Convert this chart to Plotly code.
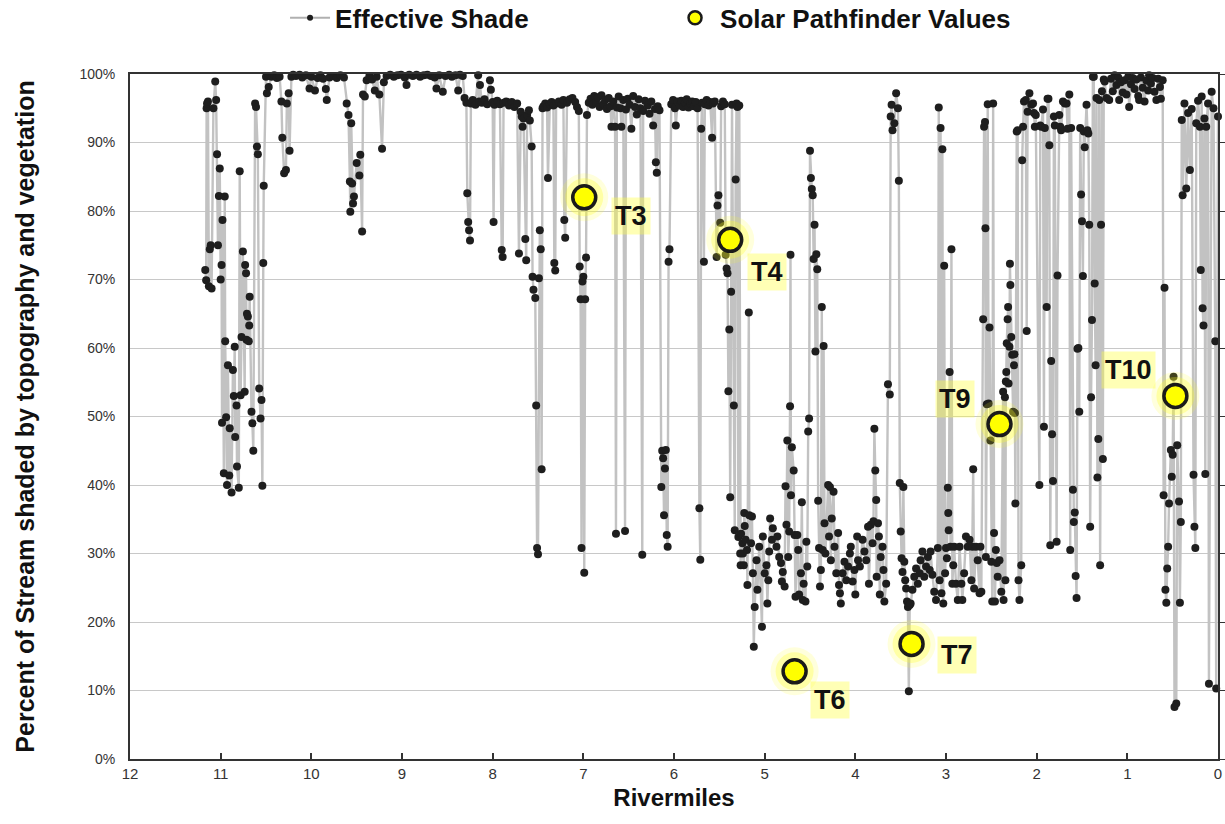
import plotly.graph_objects as go

# ---------------- Effective Shade (rivermile, percent shaded) ----------------
shade_rm11_10 = [
    (11.17, 71.4), (11.16, 69.9), (11.155, 95.0), (11.15, 95.7), (11.14, 96.0), (11.13, 69.0),
    (11.12, 74.4), (11.11, 75.0), (11.10, 68.7), (11.08, 95.0), (11.06, 98.9), (11.05, 96.2),
    (11.04, 88.3), (11.03, 75.0), (11.02, 82.2), (11.01, 86.2), (11.00, 70.0), (10.99, 72.1),
    (10.985, 49.1), (10.98, 78.7), (10.965, 41.7), (10.955, 82.1), (10.95, 61.0), (10.94, 49.9),
    (10.93, 40.0), (10.92, 57.5), (10.905, 41.4), (10.90, 48.3), (10.88, 38.9), (10.865, 56.8),
    (10.855, 53.0), (10.845, 60.2), (10.84, 47.0), (10.825, 51.6), (10.82, 42.7), (10.80, 39.6),
    (10.79, 85.8), (10.78, 53.1), (10.77, 61.6), (10.755, 74.1), (10.735, 53.6), (10.73, 72.1),
    (10.72, 70.9), (10.715, 61.2), (10.71, 65.0), (10.70, 64.6), (10.69, 61.0), (10.685, 63.3),
    (10.68, 67.5), (10.66, 50.7), (10.65, 49.0), (10.64, 45.0), (10.62, 95.7), (10.61, 95.2),
    (10.60, 89.4), (10.59, 88.3), (10.575, 54.1), (10.56, 49.7), (10.55, 52.4), (10.54, 39.9),
    (10.53, 72.4), (10.525, 83.7), (10.50, 99.6), (10.49, 97.2), (10.47, 98.1), (10.44, 99.6),
    (10.41, 99.8), (10.38, 99.4), (10.35, 99.6),
]

shade_rm10_8 = [
    (10.33, 96.0), (10.32, 90.7), (10.30, 85.5), (10.28, 86.0), (10.27, 95.7), (10.25, 97.2),
    (10.24, 88.8), (10.22, 99.6), (10.20, 99.9), (10.17, 99.7), (10.13, 99.9), (10.10, 99.5),
    (10.06, 99.8), (10.02, 97.9), (10.00, 99.6), (9.96, 97.6), (9.93, 99.4), (9.90, 99.8),
    (9.87, 99.3), (9.84, 97.8), (9.83, 96.2), (9.80, 99.5), (9.76, 99.7), (9.72, 99.4),
    (9.68, 99.8), (9.64, 99.5), (9.61, 95.7), (9.59, 94.0), (9.575, 84.3), (9.57, 79.9),
    (9.56, 92.8), (9.55, 84.0), (9.54, 81.1), (9.53, 82.1), (9.50, 87.0), (9.47, 85.2),
    (9.46, 88.2), (9.44, 77.0), (9.43, 97.0), (9.41, 96.7), (9.39, 99.1), (9.36, 99.7),
    (9.33, 99.2), (9.30, 97.6), (9.28, 99.6), (9.25, 97.0), (9.22, 89.1), (9.20, 98.8),
    (9.17, 99.7), (9.13, 99.9), (9.09, 99.6), (9.05, 99.8), (9.01, 99.9), (8.97, 99.5),
    (8.95, 98.4), (8.92, 99.9), (8.88, 99.7), (8.84, 99.9), (8.80, 99.6), (8.76, 99.8),
    (8.72, 99.9), (8.68, 99.7), (8.64, 99.5), (8.62, 97.9), (8.59, 99.8), (8.55, 97.4),
    (8.52, 99.7), (8.48, 99.9), (8.45, 99.6), (8.41, 99.8), (8.38, 97.6), (8.36, 99.9),
    (8.33, 99.7),
]

shade_rm8_7 = [
    (8.31, 96.5), (8.29, 95.8), (8.28, 82.6), (8.27, 78.4), (8.26, 77.2), (8.25, 75.7),
    (8.24, 95.7), (8.22, 96.2), (8.19, 95.5), (8.16, 99.8), (8.15, 96.0), (8.14, 98.4),
    (8.12, 95.8), (8.09, 96.3), (8.06, 95.6), (8.03, 99.1), (8.02, 97.7), (8.00, 95.9),
    (7.99, 78.4), (7.98, 95.5), (7.95, 96.1), (7.92, 95.6), (7.90, 74.3), (7.89, 73.3),
    (7.88, 95.8), (7.85, 96.0), (7.82, 95.4), (7.79, 95.9), (7.76, 95.2), (7.73, 95.7),
    (7.71, 73.8), (7.69, 94.5), (7.68, 93.8), (7.67, 92.3), (7.66, 93.5), (7.64, 75.9),
    (7.63, 72.8), (7.62, 94.0), (7.60, 94.7), (7.59, 93.2), (7.57, 89.4), (7.56, 70.4),
    (7.55, 68.5), (7.53, 67.3), (7.52, 51.6), (7.51, 30.8), (7.50, 29.9), (7.49, 70.2),
    (7.48, 77.2), (7.47, 74.4), (7.46, 42.3), (7.45, 95.0), (7.44, 95.3), (7.42, 95.7),
    (7.40, 95.1), (7.39, 84.8), (7.37, 95.6), (7.35, 95.9), (7.33, 95.4), (7.32, 72.4),
    (7.31, 71.3), (7.30, 95.7), (7.27, 96.0), (7.24, 95.5), (7.22, 96.2), (7.21, 78.7),
    (7.20, 76.1), (7.18, 95.8), (7.15, 96.3), (7.12, 96.5), (7.09, 95.9), (7.07, 95.2),
    (7.05, 94.6), (7.04, 71.9), (7.03, 67.1), (7.02, 30.8), (7.01, 69.7), (7.00, 70.4),
    (6.99, 27.2), (6.98, 67.1), (6.97, 73.2), (6.96, 94.0), (6.94, 95.8),
]

shade_rm7_5 = [
    (6.92, 96.4), (6.90, 95.5), (6.88, 96.8), (6.86, 95.9), (6.84, 96.6), (6.82, 95.2),
    (6.80, 96.9), (6.78, 95.6), (6.76, 96.2), (6.74, 94.9), (6.72, 96.5), (6.70, 95.3),
    (6.69, 92.3), (6.67, 96.0), (6.65, 92.3), (6.64, 32.9), (6.63, 95.1), (6.61, 96.7),
    (6.59, 95.0), (6.58, 92.3), (6.56, 96.2), (6.54, 33.3), (6.53, 94.8), (6.51, 96.4),
    (6.49, 95.5), (6.47, 92.0), (6.45, 96.8), (6.43, 95.2), (6.41, 94.1), (6.39, 96.3),
    (6.37, 95.0), (6.35, 29.8), (6.34, 94.6), (6.32, 96.1), (6.29, 95.4), (6.27, 94.2),
    (6.25, 96.0), (6.23, 92.5), (6.21, 94.9), (6.20, 87.1), (6.19, 85.6), (6.18, 95.3),
    (6.16, 94.7), (6.14, 39.7), (6.13, 45.0), (6.12, 43.9), (6.11, 35.6), (6.10, 42.4),
    (6.09, 45.1), (6.08, 32.7), (6.07, 31.0), (6.06, 72.6), (6.05, 74.4), (6.03, 95.6),
    (6.01, 96.2), (5.99, 95.0), (5.98, 92.5), (5.96, 96.0), (5.94, 95.4), (5.92, 96.1),
    (5.90, 95.2), (5.88, 95.8), (5.86, 96.3), (5.84, 95.1), (5.82, 95.7), (5.80, 96.0),
    (5.78, 95.3), (5.76, 95.9), (5.74, 95.0), (5.72, 36.6), (5.71, 29.1), (5.70, 92.0),
    (5.69, 95.8), (5.67, 72.6), (5.66, 95.6), (5.64, 96.2), (5.62, 95.4), (5.60, 95.9),
    (5.58, 90.7), (5.57, 95.7), (5.55, 96.0), (5.53, 73.3), (5.52, 80.8), (5.51, 82.3),
    (5.49, 78.3), (5.48, 95.3), (5.46, 96.0), (5.44, 95.6), (5.43, 73.6), (5.42, 71.6),
    (5.41, 70.9), (5.40, 53.7), (5.39, 62.7), (5.38, 38.2), (5.37, 68.2), (5.36, 95.5),
    (5.34, 51.6), (5.33, 33.4), (5.32, 84.6), (5.31, 95.7), (5.30, 95.2), (5.29, 32.4),
    (5.28, 95.4), (5.27, 30.0),
]

shade_rm5_4 = [
    (5.265, 28.3), (5.26, 32.9), (5.245, 31.5), (5.24, 30.0), (5.23, 28.3), (5.225, 35.9),
    (5.22, 34.0), (5.21, 32.0), (5.195, 30.5), (5.19, 25.4), (5.175, 65.2), (5.17, 35.6),
    (5.15, 31.5), (5.14, 35.4), (5.13, 27.1), (5.12, 16.4), (5.11, 22.2), (5.09, 29.0),
    (5.08, 24.7), (5.06, 31.0), (5.03, 19.3), (5.02, 32.5), (5.00, 27.1), (4.98, 28.3),
    (4.97, 22.7), (4.96, 26.1), (4.95, 30.3), (4.94, 35.1), (4.92, 32.0), (4.91, 33.7),
    (4.87, 31.0), (4.86, 32.5), (4.84, 29.5), (4.82, 28.6), (4.81, 25.9), (4.80, 27.3),
    (4.78, 25.2), (4.77, 39.8), (4.76, 34.2), (4.75, 46.5), (4.74, 29.5), (4.73, 33.2),
    (4.72, 51.5), (4.715, 73.6), (4.71, 38.5), (4.70, 45.5), (4.68, 42.1), (4.67, 32.7),
    (4.66, 23.7), (4.64, 32.7), (4.63, 30.5), (4.62, 24.0), (4.60, 27.1), (4.59, 37.5),
    (4.58, 23.2), (4.57, 25.6), (4.55, 23.0), (4.54, 31.7), (4.53, 28.1), (4.52, 47.8),
    (4.51, 49.7), (4.50, 88.8), (4.49, 84.8), (4.48, 83.2), (4.47, 82.3), (4.46, 73.0),
    (4.45, 78.0), (4.44, 59.5), (4.43, 73.7), (4.42, 71.5), (4.41, 37.7), (4.40, 30.8),
    (4.39, 25.2), (4.38, 27.6), (4.37, 66.0), (4.36, 30.5), (4.35, 60.3), (4.34, 34.4),
    (4.33, 30.0), (4.30, 40.0), (4.29, 32.5), (4.28, 39.7), (4.27, 29.0), (4.26, 35.1),
    (4.24, 39.0), (4.23, 31.0), (4.21, 27.1), (4.19, 33.0), (4.18, 25.4), (4.17, 24.2),
    (4.16, 22.7), (4.14, 27.1), (4.12, 28.8), (4.10, 26.1), (4.08, 28.1), (4.06, 30.0),
    (4.05, 31.0), (4.03, 25.9), (4.01, 27.6),
]

shade_rm4_3 = [
    (4.00, 24.0), (3.98, 32.5), (3.97, 29.0), (3.95, 28.1), (3.92, 32.0), (3.90, 30.3),
    (3.88, 29.0), (3.86, 33.9), (3.85, 25.6), (3.83, 34.2), (3.81, 31.5), (3.80, 34.7),
    (3.79, 48.2), (3.78, 42.1), (3.77, 37.8), (3.765, 26.6), (3.75, 34.4), (3.74, 32.5),
    (3.73, 24.0), (3.72, 29.5), (3.70, 31.0), (3.69, 27.6), (3.68, 23.0), (3.66, 25.6),
    (3.64, 54.7), (3.62, 53.2), (3.61, 93.8), (3.60, 95.5), (3.59, 91.8), (3.57, 92.8),
    (3.55, 97.2), (3.53, 95.0), (3.52, 84.4), (3.51, 40.3), (3.50, 33.2), (3.49, 29.3),
    (3.48, 27.3), (3.47, 39.7), (3.46, 28.8), (3.45, 26.1), (3.44, 24.9), (3.43, 23.0),
    (3.42, 22.2), (3.41, 9.9), (3.40, 22.5), (3.39, 22.7), (3.37, 24.7), (3.35, 26.6),
    (3.33, 27.8), (3.31, 25.6), (3.29, 27.1), (3.28, 29.0), (3.26, 30.3), (3.24, 26.6),
    (3.22, 28.1), (3.20, 29.5), (3.18, 27.6), (3.17, 30.3), (3.15, 26.9), (3.13, 24.4),
    (3.11, 23.2), (3.09, 30.8), (3.08, 95.1), (3.07, 26.1), (3.06, 92.1), (3.05, 24.2),
    (3.04, 89.0), (3.03, 22.7), (3.02, 72.0), (3.01, 27.1),
]

shade_rm3_2 = [
    (3.00, 30.8), (2.99, 29.3), (2.98, 39.6), (2.975, 35.9), (2.97, 33.4), (2.96, 56.5),
    (2.95, 31.0), (2.94, 74.4), (2.93, 25.6), (2.92, 28.3), (2.91, 31.0), (2.89, 25.6),
    (2.87, 23.2), (2.85, 31.0), (2.83, 25.6), (2.82, 23.2), (2.80, 27.1), (2.78, 32.5),
    (2.76, 31.0), (2.74, 32.0), (2.72, 26.1), (2.71, 31.0), (2.70, 42.3), (2.69, 24.9),
    (2.67, 31.0), (2.65, 29.0), (2.63, 24.2), (2.62, 31.0), (2.61, 24.4), (2.59, 64.2),
    (2.58, 92.3), (2.57, 93.0), (2.565, 77.5), (2.56, 29.5), (2.55, 51.8), (2.54, 95.6),
    (2.53, 51.9), (2.52, 63.0), (2.51, 46.5), (2.50, 28.8), (2.49, 23.0), (2.48, 95.7),
    (2.47, 33.0), (2.46, 23.0), (2.45, 30.5), (2.44, 28.6), (2.43, 26.6), (2.41, 29.0),
    (2.39, 24.4), (2.37, 53.6), (2.365, 23.2), (2.35, 52.8), (2.345, 26.1), (2.34, 55.1),
    (2.335, 56.5), (2.33, 60.7), (2.32, 64.2), (2.315, 66.0), (2.31, 54.8), (2.30, 60.2),
    (2.295, 72.3), (2.29, 69.2), (2.28, 61.6), (2.27, 59.0), (2.26, 50.7), (2.25, 57.5),
    (2.245, 59.1), (2.24, 50.5), (2.235, 37.3), (2.22, 91.6), (2.21, 91.8), (2.20, 26.1),
    (2.19, 23.2), (2.17, 28.3), (2.16, 87.4), (2.15, 92.3), (2.14, 96.0), (2.12, 96.2),
    (2.11, 62.5), (2.10, 94.5), (2.08, 97.2), (2.06, 95.5), (2.04, 95.7), (2.03, 94.3),
    (2.02, 92.3), (2.01, 94.0),
]

shade_rm2_1 = [
    (1.97, 40.0), (1.96, 92.5), (1.95, 92.3), (1.93, 94.8), (1.92, 48.5), (1.91, 92.1),
    (1.89, 66.0), (1.88, 96.4), (1.87, 96.4), (1.86, 89.6), (1.85, 31.2), (1.84, 58.1),
    (1.83, 47.4), (1.82, 40.6), (1.81, 93.8), (1.80, 92.5), (1.78, 31.7), (1.77, 70.6),
    (1.75, 94.0), (1.74, 92.3), (1.73, 91.8), (1.71, 96.0), (1.69, 95.7), (1.67, 95.7),
    (1.66, 92.0), (1.64, 97.0), (1.63, 30.5), (1.62, 92.1), (1.60, 39.3), (1.59, 34.6),
    (1.58, 36.0), (1.57, 26.7), (1.56, 23.5), (1.55, 59.9), (1.54, 60.0), (1.53, 50.7),
    (1.52, 92.1), (1.51, 82.4), (1.50, 78.5), (1.49, 70.5), (1.48, 91.6), (1.47, 89.3),
    (1.45, 95.5), (1.44, 91.8), (1.43, 91.3), (1.42, 78.0), (1.41, 33.9), (1.40, 52.8),
    (1.39, 64.1), (1.38, 99.6), (1.37, 99.6), (1.36, 69.4), (1.35, 57.5), (1.34, 96.5),
    (1.33, 41.1), (1.32, 46.7), (1.31, 96.2), (1.30, 28.3), (1.29, 78.0), (1.28, 97.5),
    (1.27, 43.8), (1.26, 99.2), (1.25, 98.9), (1.23, 96.5), (1.20, 96.2), (1.18, 99.3),
    (1.16, 97.5), (1.14, 99.8), (1.12, 98.4), (1.10, 99.5), (1.09, 96.2), (1.07, 98.8),
    (1.05, 97.3), (1.03, 99.1), (1.01, 97.0),
]

shade_rm1_0 = [
    (0.99, 99.6), (0.98, 95.2), (0.96, 98.5), (0.94, 99.4), (0.92, 97.8), (0.90, 99.2),
    (0.88, 96.8), (0.87, 96.2), (0.85, 99.5), (0.83, 98.0), (0.81, 96.0), (0.79, 99.0),
    (0.77, 97.6), (0.76, 99.8), (0.74, 98.6), (0.72, 99.4), (0.70, 97.4), (0.68, 96.2),
    (0.66, 99.3), (0.64, 98.1), (0.63, 96.4), (0.61, 99.1), (0.60, 38.5), (0.59, 68.8),
    (0.58, 24.7), (0.57, 22.8), (0.56, 27.8), (0.55, 31.0), (0.54, 37.3), (0.52, 45.1),
    (0.51, 41.2), (0.50, 44.4), (0.49, 55.8), (0.48, 7.6), (0.46, 8.1), (0.45, 45.8),
    (0.43, 37.6), (0.42, 22.8), (0.41, 34.6), (0.40, 93.3), (0.39, 82.3), (0.37, 95.7),
    (0.35, 83.3), (0.33, 94.3), (0.31, 86.0), (0.29, 94.9), (0.27, 41.5), (0.26, 33.9),
    (0.25, 30.8), (0.24, 92.8), (0.22, 96.1), (0.20, 92.3), (0.19, 71.4), (0.18, 96.7),
    (0.17, 65.8), (0.16, 63.3), (0.15, 93.5), (0.14, 41.6), (0.13, 92.3), (0.11, 95.7),
    (0.10, 11.0), (0.07, 97.4), (0.05, 95.0), (0.03, 61.0), (0.02, 10.3), (0.00, 93.8),
]

# ---------------- Solar Pathfinder measurements ----------------
solar_labels = ["T3", "T4", "T6", "T7", "T9", "T10"]
solar_miles = [6.99, 5.38, 4.67, 3.38, 2.41, 0.47]
solar_values = [82.0, 75.8, 12.8, 16.8, 48.9, 53.0]

# ---------------- assemble ----------------
reaches = [shade_rm11_10, shade_rm10_8, shade_rm8_7, shade_rm7_5, shade_rm5_4,
           shade_rm4_3, shade_rm3_2, shade_rm2_1, shade_rm1_0]
pts = [p for r in reaches for p in r]
pts = sorted(pts, key=lambda p: -p[0])
shade_x = [p[0] for p in pts]
shade_y = [p[1] for p in pts]

FONT = "Liberation Sans, Arial, sans-serif"
fig = go.Figure()

fig.add_trace(go.Scatter(
    x=shade_x, y=shade_y, mode="lines+markers", showlegend=False,
    line=dict(color="#c2c2c2", width=2.4),
    marker=dict(color="#1e1e1e", size=8),
    cliponaxis=False, hoverinfo="skip"))

# yellow glow behind the pathfinder points
for sz, op in [(48, 0.16), (38, 0.30)]:
    fig.add_trace(go.Scatter(
        x=solar_miles, y=solar_values, mode="markers", showlegend=False,
        marker=dict(color=f"rgba(255,255,40,{op})", size=sz, line=dict(width=0)),
        hoverinfo="skip"))

fig.add_trace(go.Scatter(
    x=solar_miles, y=solar_values, mode="markers", showlegend=False,
    marker=dict(color="#ffff00", size=23, line=dict(color="#1a1a1a", width=3.5))))

# legend entries
fig.add_trace(go.Scatter(
    x=[None], y=[None], mode="lines+markers", name="Effective Shade",
    line=dict(color="#b0b0b0", width=2), marker=dict(color="#1e1e1e", size=6)))
fig.add_trace(go.Scatter(
    x=[None], y=[None], mode="markers", name="Solar Pathfinder Values", yaxis="y2",
    marker=dict(color="#ffff00", size=13, line=dict(color="#1a1a1a", width=2.5))))

label_offsets = {"T3": (47, -19), "T4": (37, -32), "T6": (35, -29),
                 "T7": (45, -11), "T9": (-44, 25), "T10": (-47, 26)}
for lab, mx, my in zip(solar_labels, solar_miles, solar_values):
    dx, dy = label_offsets[lab]
    fig.add_annotation(x=mx, y=my, xref="x", yref="y", text=f"<b>{lab}</b>",
                       showarrow=False, xshift=dx, yshift=dy,
                       font=dict(family=FONT, size=27, color="#111"),
                       bgcolor="rgba(255,255,60,0.38)", borderpad=3)

fig.update_layout(
    width=1225, height=824,
    margin=dict(l=130, r=7, t=74, b=65, autoexpand=False),
    paper_bgcolor="white", plot_bgcolor="white",
    font=dict(family=FONT, color="#333"),
    showlegend=True,
    legend=dict(orientation="h", x=0.1425, y=1.082, xanchor="left", yanchor="middle",
                entrywidth=330, entrywidthmode="pixels",
                font=dict(family=FONT, size=26, color="#111", weight="bold"),
                bgcolor="rgba(0,0,0,0)", itemwidth=40, tracegroupgap=0),
    xaxis=dict(range=[12, 0], tickmode="linear", tick0=0, dtick=1,
               ticks="inside", ticklen=6, tickwidth=1.5, tickcolor="#333",
               showline=True, linecolor="#333", linewidth=2, mirror=True,
               showgrid=False, zeroline=False,
               tickfont=dict(family=FONT, size=15, color="#333"),
               title=dict(text="<b>Rivermiles</b>", standoff=8,
                          font=dict(family=FONT, size=24, color="#111"))),
    yaxis=dict(range=[0, 100], tickmode="linear", tick0=0, dtick=10, ticksuffix="%",
               showgrid=True, gridcolor="#c8c8c8", gridwidth=1,
               showline=True, linecolor="#333", linewidth=2, mirror=True,
               ticks="", zeroline=False, ticklabelstandoff=10,
               tickfont=dict(family=FONT, size=14, color="#333"),
               title=dict(text="<b>Percent of Stream shaded by topography and vegetation</b>",
                          standoff=38, font=dict(family=FONT, size=25, color="#111"))),
    yaxis2=dict(range=[0, 100], overlaying="y", side="right", tickmode="linear",
                tick0=0, dtick=10, ticks="outside", ticklen=7, tickcolor="#333",
                showticklabels=False, showgrid=False, zeroline=False, showline=False),
)

fig.write_html("out.html", config={"displayModeBar": False},
               post_script="document.body.style.margin='0';document.body.style.overflow='hidden';")
